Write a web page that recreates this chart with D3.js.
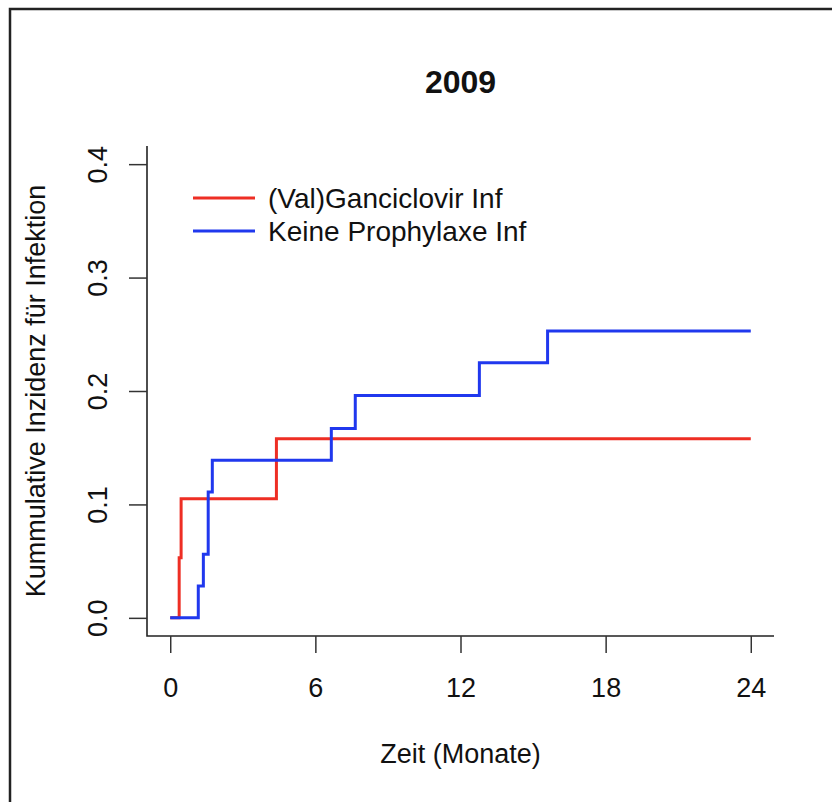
<!DOCTYPE html>
<html>
<head>
<meta charset="utf-8">
<script src="https://cdn.jsdelivr.net/npm/d3@7"></script>
<style>
  html, body { margin: 0; padding: 0; background: #fff; }
  svg { display: block; }
  text { font-family: "Liberation Sans", Arial, Helvetica, sans-serif; fill: #111; }
</style>
</head>
<body>
<svg id="chart" width="832" height="802"></svg>
<script>
// Cumulative incidence of infection, step functions by group
const seriesNames = ["(Val)Ganciclovir Inf", "Keine Prophylaxe Inf"];
const seriesColors = ["#ee2e24", "#2038ee"];

const ganciclovirTimes  = [0, 0.37, 0.45, 4.39, 24];
const ganciclovirValues = [0, 0.053, 0.105, 0.158, 0.158];

const keineTimes  = [0, 1.16, 1.37, 1.57, 1.74, 6.66, 7.65, 12.78, 15.6, 24];
const keineValues = [0, 0.028, 0.056, 0.111, 0.139, 0.167, 0.196, 0.225, 0.253, 0.253];

const xTicks = [0, 6, 12, 18, 24];
const yTicks = [0, 0.1, 0.2, 0.3, 0.4];

const titleText = "2009";
const xLabel = "Zeit (Monate)";
const yLabel = "Kummulative Inzidenz für Infektion";

const svg = d3.select("#chart");

// plot region (axis ranges padded by 4% like R's default)
const plotLeft = 147, plotRight = 774, plotTop = 146, plotBottom = 636;
const x = d3.scaleLinear().domain([-0.96, 24.96]).range([plotLeft, plotRight]);
const y = d3.scaleLinear().domain([-0.016, 0.416]).range([plotBottom, plotTop]);

// outer frame (left and top edges)
svg.append("path")
  .attr("d", "M10,805V9H835")
  .attr("fill", "none")
  .attr("stroke", "#222")
  .attr("stroke-width", 2.5);

// title
svg.append("text")
  .attr("x", (plotLeft + plotRight) / 2)
  .attr("y", 93)
  .attr("text-anchor", "middle")
  .attr("font-size", 32)
  .attr("font-weight", "bold")
  .text(titleText);

// L-shaped box
svg.append("path")
  .attr("d", `M${plotLeft},${plotTop}V${plotBottom}H${plotRight}`)
  .attr("fill", "none")
  .attr("stroke", "#222")
  .attr("stroke-width", 1.6);

// x axis
const gx = svg.append("g")
  .attr("transform", `translate(0,${plotBottom})`)
  .call(d3.axisBottom(x).tickValues(xTicks).tickSize(17).tickSizeOuter(0).tickFormat(d3.format("d")));
gx.select(".domain").remove();
gx.selectAll(".tick line").attr("stroke", "#333").attr("stroke-width", 1.5);
gx.selectAll(".tick text")
  .attr("y", 61).attr("dy", 0)
  .attr("font-size", 27)
  .attr("fill", "#111");
gx.attr("font-family", null).attr("font-size", null);

// y axis
const gy = svg.append("g")
  .attr("transform", `translate(${plotLeft},0)`)
  .call(d3.axisLeft(y).tickValues(yTicks).tickSize(18).tickSizeOuter(0).tickFormat(d3.format(".1f")));
gy.select(".domain").remove();
gy.selectAll(".tick line").attr("stroke", "#333").attr("stroke-width", 1.5);
gy.selectAll(".tick text")
  .attr("transform", "rotate(-90)")
  .attr("x", 0).attr("y", -40).attr("dy", 0)
  .attr("text-anchor", "middle")
  .attr("font-size", 27)
  .attr("fill", "#111");
gy.attr("font-family", null).attr("font-size", null);

// axis titles
svg.append("text")
  .attr("x", (plotLeft + plotRight) / 2)
  .attr("y", 763)
  .attr("text-anchor", "middle")
  .attr("font-size", 27)
  .text(xLabel);

svg.append("text")
  .attr("transform", `translate(45,${391}) rotate(-90)`)
  .attr("text-anchor", "middle")
  .attr("font-size", 27)
  .text(yLabel);

// step curves
const line = d3.line()
  .x(d => x(d[0]))
  .y(d => y(d[1]))
  .curve(d3.curveStepAfter);

const series = [
  d3.zip(ganciclovirTimes, ganciclovirValues),
  d3.zip(keineTimes, keineValues)
];

series.forEach((pts, i) => {
  svg.append("path")
    .datum(pts)
    .attr("d", line)
    .attr("fill", "none")
    .attr("stroke", seriesColors[i])
    .attr("stroke-width", 3);
});

// legend
const legend = svg.append("g");
seriesNames.forEach((name, i) => {
  const cy = 198 + i * 33;
  legend.append("line")
    .attr("x1", 193).attr("x2", 255)
    .attr("y1", cy).attr("y2", cy)
    .attr("stroke", seriesColors[i])
    .attr("stroke-width", 3);
  legend.append("text")
    .attr("x", 268)
    .attr("y", cy + 10)
    .attr("font-size", 28)
    .text(name);
});
</script>
</body>
</html>
